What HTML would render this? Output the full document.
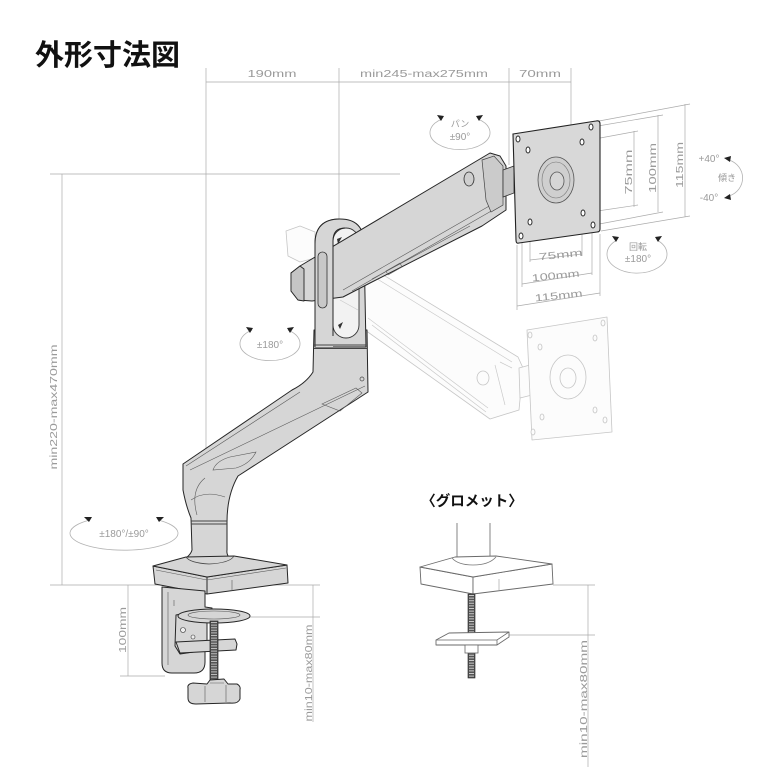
<!DOCTYPE html>
<html><head><meta charset="utf-8"><style>
html,body{margin:0;padding:0;background:#fff;}
svg{display:block}
.d{font-family:"Liberation Sans",sans-serif;font-size:10px;fill:#9a9a9a;}
.j{font-family:"Liberation Sans","Noto Sans CJK JP",sans-serif;font-size:9px;fill:#9a9a9a;}
.dl{stroke:#ababab;stroke-width:0.7;fill:none;}
.g{stroke:#c6c6c6;stroke-width:0.8;fill:#fcfcfc;stroke-linejoin:round;}
.gl{stroke:#cacaca;stroke-width:0.7;fill:none;}
.a{fill:#d6d6d6;stroke:#262626;stroke-width:1;stroke-linejoin:round;}
.al{stroke:#5a5a5a;stroke-width:0.6;fill:none;}
.c{fill:none;stroke:#b3b3b3;stroke-width:0.8;}
.ar{fill:#222;}
.w{fill:#fff;stroke:#6a6a6a;stroke-width:0.9;stroke-linejoin:round;}
</style></head><body>
<svg width="780" height="780" viewBox="0 0 780 780" xmlns="http://www.w3.org/2000/svg">
<rect width="780" height="780" fill="#fff"/>

<!-- title -->
<text x="35" y="65" font-family="'Liberation Sans','Noto Sans CJK JP',sans-serif" font-weight="bold" font-size="29" fill="#111">外形寸法図</text>

<!-- dimension lines -->
<path class="dl" d="M206,68 V460 M339,68 V225 M509,68 V165 M571,68 V125 M206,82 H571
 M50,174 H400 M62,174 V585 M50,585 H320 M313,585 V722 M250,617 H320 M128,585 V676 M120,676 H165
 M553,585 H595 M588,585 V767 M508,635 H595"/>
<text class="d" x="272" y="77" text-anchor="middle" textLength="49" lengthAdjust="spacingAndGlyphs">190mm</text>
<text class="d" x="424" y="77" text-anchor="middle" textLength="128" lengthAdjust="spacingAndGlyphs">min245-max275mm</text>
<text class="d" x="540" y="77" text-anchor="middle" textLength="42" lengthAdjust="spacingAndGlyphs">70mm</text>
<text class="d" transform="translate(57,407) rotate(-90)" text-anchor="middle" textLength="125" lengthAdjust="spacingAndGlyphs">min220-max470mm</text>
<text class="d" transform="translate(126,630) rotate(-90)" text-anchor="middle" textLength="46" lengthAdjust="spacingAndGlyphs">100mm</text>
<text class="d" transform="translate(312,673) rotate(-90)" text-anchor="middle" textLength="97" lengthAdjust="spacingAndGlyphs">min10-max80mm</text>
<text class="d" transform="translate(587,699) rotate(-90)" text-anchor="middle" textLength="118" lengthAdjust="spacingAndGlyphs">min10-max80mm</text>

<!-- plate dimension lines -->
<path class="dl" d="M584,141 L638,131 M634,131 V207 M584,213 L638,205
 M592,127 L663,115 M658,115 V212 M594,225 L663,212
 M599,121 L690,104 M685,104 V217 M601,231 L690,216
 M530,225 V262 M582,216 V256 M530,260 L582,254
 M522,239 V287 M592,228 V275 M522,284 L592,273
 M517,245 V310 M600,234 V296 M517,306 L600,293"/>
<text class="d" transform="translate(632,172) rotate(-90)" text-anchor="middle" textLength="45" lengthAdjust="spacingAndGlyphs">75mm</text>
<text class="d" transform="translate(656,168) rotate(-90)" text-anchor="middle" textLength="50" lengthAdjust="spacingAndGlyphs">100mm</text>
<text class="d" transform="translate(683,165) rotate(-90)" text-anchor="middle" textLength="46" lengthAdjust="spacingAndGlyphs">115mm</text>
<text class="d" transform="translate(561,258) rotate(-6)" text-anchor="middle" textLength="44" lengthAdjust="spacingAndGlyphs">75mm</text>
<text class="d" transform="translate(556,279) rotate(-6)" text-anchor="middle" textLength="48" lengthAdjust="spacingAndGlyphs">100mm</text>
<text class="d" transform="translate(559,299) rotate(-6)" text-anchor="middle" textLength="48" lengthAdjust="spacingAndGlyphs">115mm</text>

<!-- ghost arm -->
<path class="g" d="M286,231 L300,226 L315,232 L315,258 L300,262 L288,256 Z"/>
<path class="g" d="M362,262 L518,357 L523,368 L519,410 L490,419 L365,330 Z"/>
<path class="gl" d="M366,272 L512,362 M368,318 L488,408 M372,325 L486,412 M495,365 L505,405 M500,362 L512,368"/>
<ellipse class="g" cx="483" cy="378" rx="6" ry="7"/>
<path class="g" d="M519,368 L530,365 L532,395 L520,398 Z"/>
<path class="g" d="M527,330 L607,317 L612,432 L532,440 Z"/>
<g class="g">
<ellipse cx="530" cy="335" rx="2" ry="3"/><ellipse cx="540" cy="347" rx="2" ry="3"/>
<ellipse cx="603" cy="323" rx="2" ry="3"/><ellipse cx="595" cy="338" rx="2" ry="3"/>
<ellipse cx="595" cy="410" rx="2" ry="3"/><ellipse cx="605" cy="420" rx="2" ry="3"/>
<ellipse cx="542" cy="417" rx="2" ry="3"/><ellipse cx="533" cy="432" rx="2" ry="3"/>
<ellipse cx="568" cy="377" rx="18" ry="22"/><ellipse cx="568" cy="378" rx="8" ry="10"/>
</g>

<!-- lower column + lower arm + post -->
<path class="a" d="M314,330 L313,372 Q306,383 292,390 L183,464 L183,490 Q186,506 191,518 L192,550 Q190,557 180,561 Q207,568 234,561 Q226,557 227,550 L227,522 Q227,495 238,476 L368,392 L367,330 Z"/>
<path class="al" d="M190,470 L365,386 M186,466 L300,392 M213,470 Q216,461 230,457 L256,452 Q250,464 236,468 Z M322,404 L356,388 L362,393 L340,411 Z M191,500 Q205,490 225,497 M197,515 Q190,490 205,478"/>
<path d="M191,521 H227 M191,524 H227" stroke="#444" stroke-width="0.9"/>
<circle cx="362" cy="379" r="2" fill="none" stroke="#444" stroke-width="0.7"/>

<!-- loop pivot -->
<path class="a" d="M315,347 L315,244 Q315,219 340,219 Q364,219 364,244 L366,347 Z"/>
<rect x="333" y="228" width="26" height="110" rx="13" fill="#f2f2f2" stroke="#333" stroke-width="0.9"/>
<path class="gl" d="M336,250 L356,262 M340,300 L358,310"/>
<path d="M337,239 L342,237 L338,244 Z M338,325 L343,322 L340,329 Z" fill="#333"/>

<!-- upper arm -->
<path class="a" d="M291,273 L300,266 L490,153 L500,156 L506,166 L506,210 L482,226 L370,283 L343,297 L312,301 L298,300 L291,291 Z"/>
<path d="M291,273 L300,266 L304,269 L304,301 L298,300 L291,291 Z" fill="#c5c5c5" stroke="#262626" stroke-width="0.9" stroke-linejoin="round"/>
<path class="al" d="M343,290 L498,201 M352,291 L500,206 M372,279 L470,226 M386,271 L400,263 L402,267 L388,275 Z"/>
<path d="M482,160 L494,156 L503,166 L503,205 L491,212 L486,200 Z" fill="#cbcbcb" stroke="#444" stroke-width="0.7"/>
<ellipse cx="469" cy="179" rx="5" ry="7" fill="#cfcfcf" stroke="#333" stroke-width="0.8"/>
<path d="M503,170 L514,166 L514,193 L503,197 Z" fill="#c3c3c3" stroke="#333" stroke-width="0.8"/>

<!-- loop front pillar -->
<path d="M315,347 V244 Q315,219 340,219 L340,228 Q333,230 333,242 V347 Z" fill="#d6d6d6"/>
<path d="M315,347 V244 Q315,219 340,219 M333,336 V241 Q333,228 345,228" fill="none" stroke="#262626" stroke-width="1"/>
<rect x="318" y="252" width="9" height="56" rx="4.5" fill="#c8c8c8" stroke="#333" stroke-width="0.8"/>
<path d="M314,345 H366 M314,348.5 H367" stroke="#444" stroke-width="0.9"/>

<!-- monitor plate -->
<path d="M513,134 L596,121 Q600,120 600,124 L600,229 Q600,232 597,232 L519,243 Q516,244 516,240 Z" fill="#d8d8d8" stroke="#222" stroke-width="1.1"/>
<g fill="#fff" stroke="#222" stroke-width="0.9">
<ellipse cx="518" cy="139" rx="2" ry="3"/><ellipse cx="528" cy="150" rx="2" ry="3"/>
<ellipse cx="591" cy="127" rx="2" ry="3"/><ellipse cx="582" cy="142" rx="2" ry="3"/>
<ellipse cx="583" cy="213" rx="2" ry="3"/><ellipse cx="593" cy="225" rx="2" ry="3"/>
<ellipse cx="530" cy="222" rx="2" ry="3"/><ellipse cx="521" cy="236" rx="2" ry="3"/>
</g>
<ellipse cx="556" cy="180" rx="18" ry="23" fill="#cfcfcf" stroke="#555" stroke-width="0.8"/>
<ellipse cx="556" cy="180" rx="14" ry="18" fill="none" stroke="#777" stroke-width="0.6"/>
<ellipse cx="557" cy="181" rx="7" ry="9" fill="#d6d6d6" stroke="#555" stroke-width="0.8"/>

<!-- base -->
<path class="a" d="M153,566 L207,577 L207,594 L155,584 Z"/>
<path class="a" d="M207,577 L287,565 L288,583 L207,594 Z"/>
<path class="a" d="M153,566 L186,557 L234,556 L287,565 L207,577 Z"/>
<path d="M186,557 Q190,563 209,564 Q230,563 234,556" fill="none" stroke="#444" stroke-width="0.7"/>
<path class="al" d="M232,580 L232,591 M156,570 L207,580 L286,568"/>

<!-- clamp -->
<path class="a" d="M162,587 L205,591 L205,607 L212,608 L212,612 L205,612 L205,662 Q205,673 194,673 L172,673 Q162,673 162,663 Z"/>
<path class="al" d="M168,592 V665 M174,600 L174,606"/>
<path class="a" d="M176,615 L200,610 L207,612 L207,650 L180,654 L175,646 Z"/>
<ellipse cx="214" cy="616" rx="36" ry="7" fill="#d6d6d6" stroke="#262626" stroke-width="1"/>
<ellipse cx="214" cy="615" rx="26" ry="4" fill="none" stroke="#555" stroke-width="0.6"/>
<path class="a" d="M176,642 L235,639 L237,644 L236,650 L180,653 Z"/>
<rect x="210" y="621" width="8" height="68" fill="#555" stroke="#222" stroke-width="0.7"/>
<line x1="214" y1="622" x2="214" y2="688" stroke="#bbb" stroke-width="6" stroke-dasharray="1 1.6"/>
<circle cx="183" cy="630" r="2.5" fill="#eee" stroke="#333" stroke-width="0.6"/>
<circle cx="193" cy="637" r="2" fill="#eee" stroke="#333" stroke-width="0.6"/>
<path class="a" d="M188,688 Q187,684 193,683 L207,684 L210,680 L224,679 L228,684 L237,684 Q241,686 240,690 L240,699 Q238,704 230,703 L196,704 Q188,704 188,698 Z"/>
<path class="al" d="M205,686 L205,702 M226,685 L226,702 M210,683 L224,683"/>

<!-- grommet -->
<text x="472" y="506" text-anchor="middle" font-family="'Liberation Sans','Noto Sans CJK JP',sans-serif" font-weight="bold" font-size="14.5" fill="#111">〈グロメット〉</text>
<path d="M457,523 V558 M490,523 V558" stroke="#777" stroke-width="0.9" fill="none"/>
<path class="w" d="M420,567 L473,577 L473,594 L421,584 Z"/>
<path class="w" d="M473,577 L552,564 L553,584 L473,594 Z"/>
<path class="w" d="M420,567 L455,557 L496,556 L552,564 L473,577 Z"/>
<path d="M452,558 Q458,565 473,565 Q489,565 496,557" fill="none" stroke="#777" stroke-width="0.8"/>
<path d="M499,579 L499,590" stroke="#999" stroke-width="0.6"/>
<rect x="468" y="594" width="7" height="84" fill="#555" stroke="#222" stroke-width="0.6"/>
<line x1="471.5" y1="595" x2="471.5" y2="677" stroke="#c9c9c9" stroke-width="5" stroke-dasharray="1 1.6"/>
<path class="w" d="M436,645 L497,645 L509,637 L509,632 L449,633 L436,640 Z"/>
<path d="M436,640 L497,640 L509,632 M497,640 V645" fill="none" stroke="#6a6a6a" stroke-width="0.8"/>
<rect x="465" y="645" width="13" height="8" fill="#fff" stroke="#666" stroke-width="0.8"/>

<!-- rotation indicators -->
<path class="c" d="M442,119 A30,17 0 1 0 478,119"/>
<path class="ar" d="M437,115 L444,116 L441,121 Z M483,115 L476,116 L479,121 Z"/>
<text class="j" x="460" y="127" text-anchor="middle">パン</text>
<text class="d" x="460" y="140" text-anchor="middle" font-size="9">±90°</text>

<path class="c" d="M252,330 A30,17 0 1 0 288,330"/>
<path class="ar" d="M246,327 L253,328 L250,333 Z M294,327 L287,328 L290,333 Z"/>
<text class="d" x="270" y="348" text-anchor="middle" font-size="9">±180°</text>

<path class="c" d="M90,520 A54,17 0 1 0 158,520"/>
<path class="ar" d="M84,517 L92,517 L89,522 Z M164,517 L156,517 L159,522 Z"/>
<text class="d" x="124" y="537" text-anchor="middle" font-size="9">±180°/±90°</text>

<path class="c" d="M617,240 A30,19 0 1 0 657,240"/>
<path class="ar" d="M612,236 L619,237 L616,242 Z M662,236 L655,237 L658,242 Z"/>
<text class="j" x="638" y="250" text-anchor="middle">回転</text>
<text class="d" x="638" y="262" text-anchor="middle" font-size="9">±180°</text>

<path class="c" d="M729,160 A20,19 0 0 1 729,196"/>
<path class="ar" d="M724,158 L731,156 L730,162 Z M724,198 L731,200 L730,194 Z"/>
<text class="d" x="709" y="162" text-anchor="middle">+40°</text>
<text class="d" x="709" y="201" text-anchor="middle">-40°</text>
<text class="j" x="727" y="181" text-anchor="middle" font-size="10">傾き</text>
</svg>
</body></html>
